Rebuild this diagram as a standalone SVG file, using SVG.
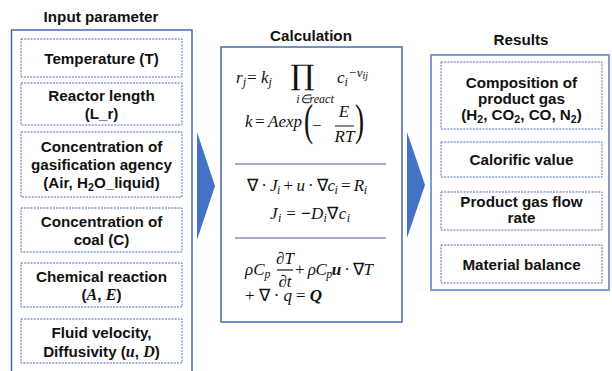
<svg xmlns="http://www.w3.org/2000/svg" width="612" height="371" viewBox="0 0 612 371">
<style>
.bg{fill:#ffffff}
.outer{fill:#ffffff;stroke:#3B5FA8;stroke-width:1.4}
.outerR{fill:#ffffff;stroke:#7F9BD1;stroke-width:2}
.inner{fill:none;stroke:#4A6DB3;stroke-width:1;stroke-dasharray:2 1.2}
.t{font-family:"Liberation Sans",Arial,sans-serif;font-weight:bold;font-size:15.2px;fill:#111;text-anchor:middle}
.mi{font-family:"Liberation Serif","Times New Roman",serif;font-style:italic;font-weight:bold;font-size:16px}
.m{font-family:"Liberation Serif","Times New Roman",serif;font-style:italic;font-size:17px;fill:#111}
.mu{font-family:"Liberation Serif","Times New Roman",serif;font-style:normal;font-size:17px;fill:#111}
.ms{font-family:"Liberation Serif","Times New Roman",serif;font-style:italic;font-size:12px;fill:#111}
.big{font-family:"DejaVu Serif","Liberation Serif",serif;font-style:normal;fill:#111}
.sep{stroke:#3B5FA8;stroke-width:1.2}
.arrow{fill:#4472C4}
</style>
<rect class="bg" x="0" y="0" width="612" height="371"/>

<g id="connectors">
<polygon class="arrow" points="197,132 215,186 197,240"/>
<polygon class="arrow" points="407,132 425,185 407,238"/>
</g>

<g id="input">
<text class="t" x="101" y="21.5">Input parameter</text>
<rect class="outer" x="11.5" y="30" width="180.5" height="350"/>
</g>
<g id="temperature">
<rect class="inner" x="21" y="39" width="161" height="38"/>
<text class="t" x="101.5" y="64">Temperature (T)</text>
</g>
<g id="reactor-length">
<rect class="inner" x="21" y="83" width="161" height="42"/>
<text class="t" x="101.5" y="101">Reactor length</text>
<text class="t" x="101.5" y="119">(L_r)</text>
</g>
<g id="gasification-agency">
<rect class="inner" x="21" y="132" width="161" height="65"/>
<text class="t" x="101.5" y="152">Concentration of</text>
<text class="t" x="101.5" y="170">gasification agency</text>
<text class="t" x="101.5" y="188">(Air, H<tspan font-size="10.5" dy="3">2</tspan><tspan dy="-3">O_liquid)</tspan></text>
</g>
<g id="coal">
<rect class="inner" x="21" y="208" width="161" height="44"/>
<text class="t" x="101.5" y="227">Concentration of</text>
<text class="t" x="101.5" y="245">coal (C)</text>
</g>
<g id="chemical-reaction">
<rect class="inner" x="21" y="263" width="161" height="44"/>
<text class="t" x="101.5" y="282">Chemical reaction</text>
<text class="t" x="101.5" y="300">(<tspan class="mi">A</tspan>, <tspan class="mi">E</tspan>)</text>
</g>
<g id="fluid-velocity">
<rect class="inner" x="21" y="319" width="161" height="44"/>
<text class="t" x="101.5" y="338">Fluid velocity,</text>
<text class="t" x="101.5" y="357">Diffusivity (<tspan class="mi">u</tspan>, <tspan class="mi">D</tspan>)</text>
</g>

<g id="calculation">
<text class="t" x="311" y="41">Calculation</text>
<rect class="outer" x="221" y="47" width="181" height="275"/>
<!-- formula 1 -->
<text class="m" x="236" y="83">r<tspan class="ms" dy="3">j</tspan></text>
<text class="mu" x="247" y="83">=</text>
<text class="m" x="261" y="83">k<tspan class="ms" dy="3">j</tspan></text>
<text class="big" x="0" y="0" text-anchor="middle" style="font-size:30px" transform="translate(302.5 85) scale(1 0.95)">∏</text>
<text class="ms" x="315" y="103" text-anchor="middle">i∈react</text>
<text class="m" x="337" y="83">c<tspan class="ms" dy="3">i</tspan></text>
<text class="ms" x="348" y="77" style="font-size:13px">−ν<tspan style="font-size:10px" dy="2">ij</tspan></text>
<!-- formula 2 -->
<text class="m" x="245" y="127">k</text>
<text class="mu" x="255" y="127">=</text>
<text class="m" x="268" y="127">Aexp</text>
<text class="mu" x="0" y="0" style="font-size:44px" transform="translate(304 135) scale(0.62 1)">(</text>
<text class="mu" x="312" y="131">−</text>
<text class="m" x="344" y="117" text-anchor="middle">E</text>
<line x1="335" y1="126" x2="354" y2="126" stroke="#111" stroke-width="1"/>
<text class="m" x="344.5" y="142" text-anchor="middle">RT</text>
<text class="mu" x="0" y="0" style="font-size:44px" transform="translate(355 135) scale(0.62 1)">)</text>
<line class="sep" x1="235" y1="164" x2="386" y2="164"/>
<!-- formula 3 -->
<text class="m" x="247" y="191" textLength="120" lengthAdjust="spacing"><tspan class="mu">∇ · </tspan>J<tspan class="ms" dy="3">i</tspan><tspan class="mu" dy="-3"> + </tspan>u<tspan class="mu"> · ∇</tspan>c<tspan class="ms" dy="3">i</tspan><tspan class="mu" dy="-3"> = </tspan>R<tspan class="ms" dy="3">i</tspan></text>
<!-- formula 4 -->
<text class="m" x="270" y="219" textLength="80" lengthAdjust="spacing">J<tspan class="ms" dy="3">i</tspan><tspan class="mu" dy="-3"> = </tspan><tspan class="mu" font-weight="bold">−</tspan>D<tspan class="ms" dy="3">i</tspan><tspan class="mu" dy="-3">∇</tspan>c<tspan class="ms" dy="3">i</tspan></text>
<line class="sep" x1="235" y1="238" x2="386" y2="238"/>
<!-- formula 5 -->
<text class="m" x="245" y="275">ρC<tspan class="ms" dy="3">p</tspan></text>
<text class="m" x="285" y="264" text-anchor="middle">∂T</text>
<line x1="277" y1="270" x2="293" y2="270" stroke="#111" stroke-width="1.2"/>
<text class="m" x="285" y="287" text-anchor="middle">∂t</text>
<text class="m" x="295" y="275" textLength="78" lengthAdjust="spacing"><tspan class="mu">+ </tspan>ρC<tspan class="ms" dy="3">p</tspan><tspan dy="-3" font-weight="bold">u</tspan><tspan class="mu"> · ∇</tspan>T</text>
<text class="m" x="245" y="301" textLength="77" lengthAdjust="spacing"><tspan class="mu">+ ∇ · </tspan>q<tspan class="mu"> = </tspan><tspan font-weight="bold">Q</tspan></text>
</g>

<g id="results">
<text class="t" x="521" y="45">Results</text>
<rect class="outerR" x="431" y="55" width="178" height="235"/>
</g>
<g id="composition">
<rect class="inner" x="441" y="62" width="161" height="67"/>
<text class="t" x="521.5" y="88">Composition of</text>
<text class="t" x="521.5" y="104">product gas</text>
<text class="t" x="521.5" y="120">(H<tspan font-size="10.5" dy="3">2</tspan><tspan dy="-3">, CO</tspan><tspan font-size="10.5" dy="3">2</tspan><tspan dy="-3">, CO, N</tspan><tspan font-size="10.5" dy="3">2</tspan><tspan dy="-3">)</tspan></text>
</g>
<g id="calorific-value">
<rect class="inner" x="441" y="142" width="161" height="35"/>
<text class="t" x="521.5" y="165">Calorific value</text>
</g>
<g id="flow-rate">
<rect class="inner" x="441" y="192" width="161" height="38"/>
<text class="t" x="521.5" y="207">Product gas flow</text>
<text class="t" x="521.5" y="223">rate</text>
</g>
<g id="material-balance">
<rect class="inner" x="441" y="245" width="161" height="38"/>
<text class="t" x="521.5" y="270">Material balance</text>
</g>
</svg>
